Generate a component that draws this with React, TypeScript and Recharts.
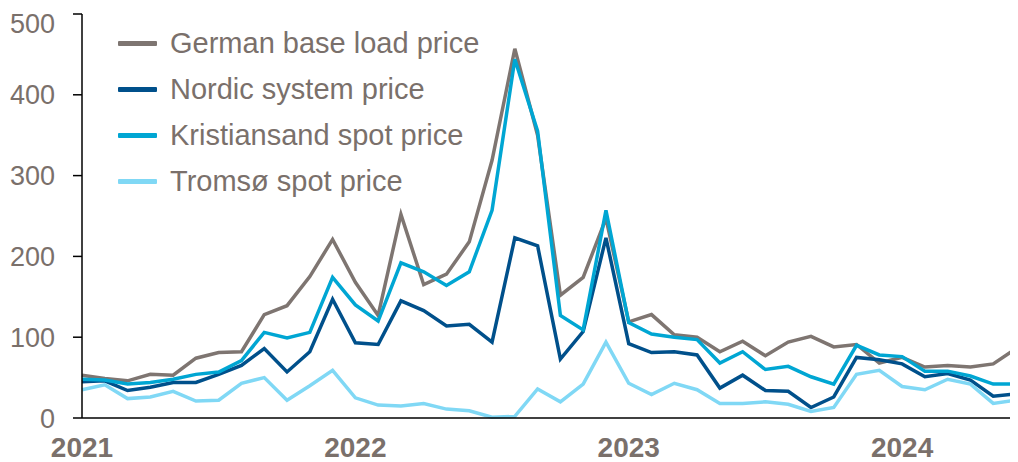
import { LineChart, Line, XAxis, YAxis, Legend } from 'recharts';

const months = [
  '2021-01', '2021-02', '2021-03', '2021-04', '2021-05', '2021-06', '2021-07', '2021-08', '2021-09', '2021-10', '2021-11', '2021-12',
  '2022-01', '2022-02', '2022-03', '2022-04', '2022-05', '2022-06', '2022-07', '2022-08', '2022-09', '2022-10', '2022-11', '2022-12',
  '2023-01', '2023-02', '2023-03', '2023-04', '2023-05', '2023-06', '2023-07', '2023-08', '2023-09', '2023-10', '2023-11', '2023-12',
  '2024-01', '2024-02', '2024-03', '2024-04', '2024-05', '2024-06',
];

const german = [53, 49, 46, 54, 53, 74, 81, 82, 128, 139, 175, 221, 168, 127, 252, 165, 178, 218, 319, 457, 350, 152, 174, 247, 119, 128, 103, 100, 82, 95, 77, 94, 101, 88, 91, 68, 75, 63, 65, 63, 67, 86];
const nordic = [45, 46, 34, 38, 44, 44, 54, 65, 86, 57, 82, 147, 93, 91, 145, 133, 114, 116, 94, 223, 213, 73, 107, 223, 92, 81, 82, 78, 37, 53, 34, 33, 13, 26, 75, 72, 67, 51, 55, 47, 27, 30];
const kristiansand = [48, 47, 42, 44, 48, 54, 57, 71, 106, 99, 106, 174, 140, 120, 192, 181, 164, 181, 257, 444, 355, 127, 109, 257, 118, 104, 100, 97, 68, 82, 60, 64, 51, 42, 90, 78, 76, 58, 58, 52, 42, 42];
const tromso = [35, 41, 24, 26, 33, 21, 22, 43, 50, 22, 40, 59, 25, 16, 15, 18, 11, 9, 1, 2, 36, 20, 42, 94, 43, 29, 43, 35, 18, 18, 20, 17, 8, 13, 54, 59, 39, 35, 48, 42, 18, 22];

const yTicks = [0, 100, 200, 300, 400, 500];
const seriesOrder = ['german', 'nordic', 'kristiansand', 'tromso'];

const data = months.map((m, i) => ({
  month: m,
  german: german[i],
  nordic: nordic[i],
  kristiansand: kristiansand[i],
  tromso: tromso[i],
}));

const textColor = '#7a706b';
const font = 'Arial, "Liberation Sans", sans-serif';

const LegendBox = ({ payload }: any) => {
  const items = [...(payload || [])].sort(
    (a: any, b: any) => seriesOrder.indexOf(a.dataKey) - seriesOrder.indexOf(b.dataKey)
  );
  return (
    <div style={{ fontFamily: font }}>
      {items.map((p: any) => (
        <div key={p.value} style={{ display: 'flex', alignItems: 'center', height: 46 }}>
          <div style={{ width: 39, height: 5, background: p.color, borderRadius: 1 }} />
          <span style={{ marginLeft: 13, fontSize: 29, color: textColor, lineHeight: '46px', whiteSpace: 'nowrap' }}>{p.value}</span>
        </div>
      ))}
    </div>
  );
};

export default function App() {
  return (
    <LineChart width={1010} height={454} data={data} margin={{ top: 6, right: 2, left: 0, bottom: 0 }}>
      <XAxis
        dataKey="month"
        interval={11}
        tickLine={false}
        tickSize={6}
        tickMargin={13}
        height={44}
        axisLine={{ stroke: '#000', strokeWidth: 1.5 }}
        tick={{ fill: textColor, fontSize: 28, fontWeight: 700, fontFamily: font }}
        tickFormatter={(v: string) => v.slice(0, 4)}
      />
      <YAxis
        domain={[0, 500]}
        ticks={yTicks}
        width={74}
        tickSize={9}
        tickMargin={18}
        axisLine={{ stroke: '#000', strokeWidth: 1.5 }}
        tickLine={{ stroke: '#000', strokeWidth: 1.5 }}
        tick={{ fill: textColor, fontSize: 27, fontFamily: font }}
      />
      <Legend
        layout="horizontal"
        verticalAlign="middle"
        align="center"
        content={<LegendBox />}
        wrapperStyle={{ left: 110, top: 12, width: 400, height: 184 }}
      />
      <Line dataKey="german" name="German base load price" stroke="#7e7571" strokeWidth={3.5} dot={false} isAnimationActive={false} />
      <Line dataKey="nordic" name="Nordic system price" stroke="#00508b" strokeWidth={3.5} dot={false} isAnimationActive={false} />
      <Line dataKey="kristiansand" name="Kristiansand spot price" stroke="#00a6d3" strokeWidth={3.5} dot={false} isAnimationActive={false} />
      <Line dataKey="tromso" name="Tromsø spot price" stroke="#80d8f5" strokeWidth={3.5} dot={false} isAnimationActive={false} />
    </LineChart>
  );
}
